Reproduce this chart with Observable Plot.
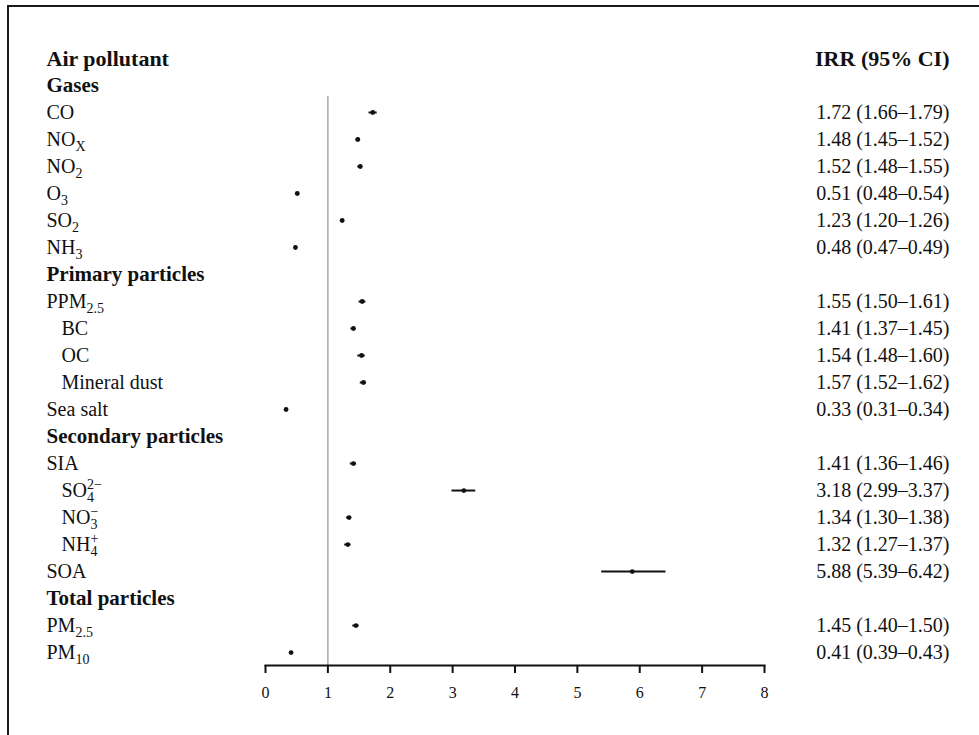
<!DOCTYPE html>
<html>
<head>
<meta charset="utf-8">
<script src="https://cdn.jsdelivr.net/npm/d3@7"></script>
<script src="https://cdn.jsdelivr.net/npm/@observablehq/plot@0.6"></script>
<style>
  html, body { margin: 0; padding: 0; background: #fff; }
  #wrap { position: relative; width: 979px; height: 735px; overflow: hidden; }
  #border { position: absolute; left: 7px; top: 5px; width: 990px; height: 760px;
            border-top: 2px solid #1a1a1a; border-left: 2px solid #1a1a1a; pointer-events: none; }
</style>
</head>
<body>
<div id="wrap"><div id="border"></div></div>
<script>
// ---- data ----
const headerLeft = "Air pollutant";
const headerRight = "IRR (95% CI)";
// rows in display order; group headings have null values
const rowLabels = [
  "Gases",
  "CO", "NO_{X}", "NO_{2}", "O_{3}", "SO_{2}", "NH_{3}",
  "Primary particles",
  "PPM_{2.5}", "BC", "OC", "Mineral dust", "Sea salt",
  "Secondary particles",
  "SIA", "SO_{4}^{2−}", "NO_{3}^{−}", "NH_{4}^{+}", "SOA",
  "Total particles",
  "PM_{2.5}", "PM_{10}"
];
const groupHeadings = ["Gases", "Primary particles", "Secondary particles", "Total particles"];
const indented = ["BC", "OC", "Mineral dust", "SO_{4}^{2−}", "NO_{3}^{−}", "NH_{4}^{+}"];
const irr   = [null, 1.72, 1.48, 1.52, 0.51, 1.23, 0.48, null, 1.55, 1.41, 1.54, 1.57, 0.33, null, 1.41, 3.18, 1.34, 1.32, 5.88, null, 1.45, 0.41];
const ciLow = [null, 1.66, 1.45, 1.48, 0.48, 1.20, 0.47, null, 1.50, 1.37, 1.48, 1.52, 0.31, null, 1.36, 2.99, 1.30, 1.27, 5.39, null, 1.40, 0.39];
const ciHigh= [null, 1.79, 1.52, 1.55, 0.54, 1.26, 0.49, null, 1.61, 1.45, 1.60, 1.62, 0.34, null, 1.46, 3.37, 1.38, 1.37, 6.42, null, 1.50, 0.43];
const xTicks = [0, 1, 2, 3, 4, 5, 6, 7, 8];
const refValue = 1;

// ---- table ----
const rows = rowLabels.map((label, i) => ({
  label, row: i + 1,
  heading: groupHeadings.includes(label),
  indent: indented.includes(label),
  irr: irr[i], lo: ciLow[i], hi: ciHigh[i],
  text: irr[i] == null ? "" : `${irr[i].toFixed(2)} (${ciLow[i].toFixed(2)}–${ciHigh[i].toFixed(2)})`
}));
const est = rows.filter(d => d.irr != null);
const nRows = rows.length;
const yBottom = nRows + 0.48;

const serif = "Liberation Serif, Times New Roman, serif";

const plot = Plot.plot({
  width: 979, height: 735,
  marginLeft: 265, marginRight: 215, marginTop: 58, marginBottom: 70,
  style: { fontFamily: serif, fontSize: "20px", color: "#111", background: "#fff" },
  x: { domain: [0, 8], axis: null },
  y: { domain: [0, yBottom], reverse: true, axis: null },
  marks: [
    Plot.ruleX([refValue], { y1: 1.4, y2: yBottom, stroke: "#aaaaaa", strokeWidth: 1.5 }),
    Plot.frame({ anchor: "bottom", stroke: "#111", strokeWidth: 2 }),
    Plot.axisX({ ticks: xTicks, tickSize: 8, tickPadding: 13, fontSize: 16, strokeWidth: 2, stroke: "#111", fill: "#111", label: null, tickFormat: d => String(d) }),
    Plot.ruleY(est, { y: "row", x1: "lo", x2: "hi", stroke: "#111", strokeWidth: 2 }),
    Plot.dot(est, { x: "irr", y: "row", r: 2.4, fill: "#111", stroke: null }),
    // header row
    Plot.text([headerLeft], { text: d => d, y: 0, frameAnchor: "left", dx: -219, textAnchor: "start", fontSize: 22, fontWeight: "bold", fill: "#111" }),
    Plot.text([headerRight], { text: d => d, y: 0, frameAnchor: "right", dx: 185, textAnchor: "end", fontSize: 22, fontWeight: "bold", fill: "#111" }),
    // group headings
    Plot.text(rows.filter(d => d.heading), { text: "label", y: "row", frameAnchor: "left", dx: -219, textAnchor: "start", fontSize: 21, fontWeight: "bold", fill: "#111" }),
    // row labels
    Plot.text(rows.filter(d => !d.heading && !d.indent), { text: "label", y: "row", frameAnchor: "left", dx: -219, textAnchor: "start", fontSize: 20, fill: "#111" }),
    Plot.text(rows.filter(d => d.indent), { text: "label", y: "row", frameAnchor: "left", dx: -204, textAnchor: "start", fontSize: 20, fill: "#111" }),
    // estimate texts
    Plot.text(est, { text: "text", y: "row", frameAnchor: "right", dx: 185, textAnchor: "end", fontSize: 20, fill: "#111" })
  ]
});
document.getElementById("wrap").appendChild(plot);

// make sure the tick labels are the reference's size
d3.select(plot).selectAll("g").filter(function () {
  return (this.getAttribute("aria-label") || "").includes("tick label");
}).each(function () {
  d3.select(this).attr("font-size", 16).style("font-size", "16px");
  d3.select(this).selectAll("text").style("font-size", "16px");
});

// apply sub/superscript markup (e.g. NO_{2}, SO_{4}^{2−}) as tspans
d3.select(plot).selectAll("text").each(function () {
  const el = this;
  const s = el.textContent;
  if (!/[_^]\{/.test(s)) return;
  const parts = s.split(/(_\{[^}]*\}|\^\{[^}]*\})/).filter(p => p !== "");
  el.textContent = "";
  let shift = 0;
  let lastSub = null;
  parts.forEach(p => {
    const t = document.createElementNS("http://www.w3.org/2000/svg", "tspan");
    let target = 0;
    if (p.startsWith("_{")) { target = 5; t.textContent = p.slice(2, -1); t.setAttribute("font-size", 14); }
    else if (p.startsWith("^{")) { target = -8; t.textContent = p.slice(2, -1); t.setAttribute("font-size", 14); }
    else { t.textContent = p; }
    t.setAttribute("dy", target - shift);
    shift = target;
    el.appendChild(t);
    if (p.startsWith("^{") && lastSub) {
      t.setAttribute("dx", -lastSub.getComputedTextLength());
    }
    lastSub = p.startsWith("_{") ? t : null;
  });
});
</script>
</body>
</html>
